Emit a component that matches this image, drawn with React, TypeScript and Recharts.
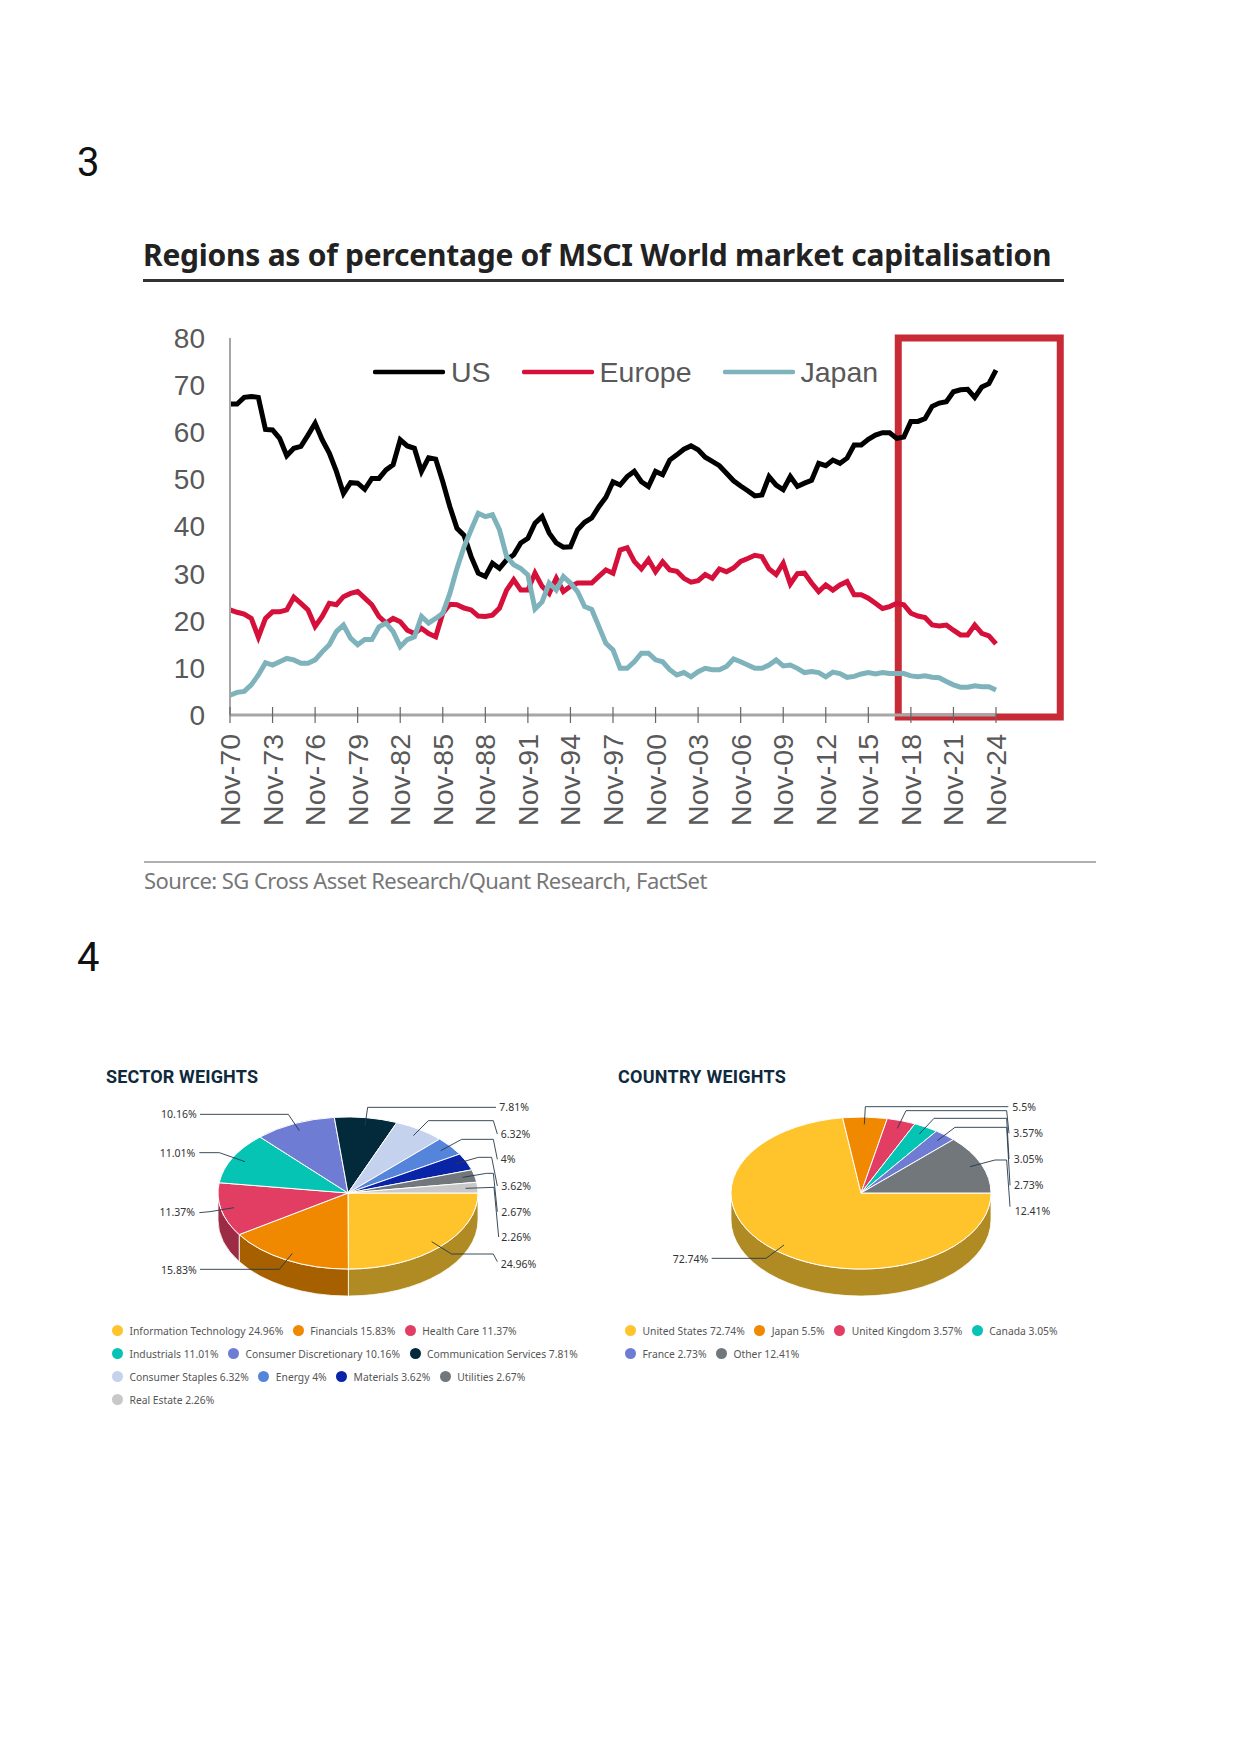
import {
  LineChart,
  Line,
  XAxis,
  YAxis,
  Legend,
  ReferenceArea,
  PieChart,
  Pie,
} from "recharts";

const FONT_AXIS = "'Liberation Sans', Arial, sans-serif";
const FONT_BODY = "'Noto Sans', sans-serif";

// half-yearly readings, starting Nov-70
const usShare = [
  66, 66, 67.4, 67.6, 67.4, 60.6, 60.5, 58.7, 55, 56.6,
  57, 59.4, 61.9, 58.4, 55.6, 51.7, 47, 49.3, 49.2, 47.9,
  50.2, 50.2, 52, 53.1, 58.4, 57.1, 56.6, 51.7, 54.6, 54.3,
  49.5, 44.2, 39.6, 38.1, 33.6, 30.1, 29.4, 32.2, 31.1, 32.9,
  34, 36.5, 37.5, 40.7, 42.1, 38.6, 36.5, 35.6, 35.7, 39.3,
  40.9, 41.8, 44.2, 46.2, 49.5, 48.8, 50.6, 51.7, 49.5, 48.5,
  51.7, 51, 54.1, 55.2, 56.4, 57.1, 56.3, 54.7, 53.8, 52.9,
  51.3, 49.7, 48.6, 47.6, 46.5, 46.7, 50.6, 48.8, 47.8, 50.6,
  48.5, 49.2, 49.8, 53.4, 52.9, 54.1, 53.4, 54.5, 57.3, 57.3,
  58.5, 59.4, 59.9, 59.9, 58.7, 59, 62.3, 62.3, 62.9, 65.5,
  66.2, 66.5, 68.6, 69, 69.1, 67.4, 69.6, 70.3, 73.2,
];
const europeShare = [
  22.3, 21.8, 21.4, 20.5, 16.5, 20.5, 21.9, 21.9, 22.3, 25,
  23.7, 22.3, 18.8, 20.9, 23.7, 23.4, 25.1, 25.8, 26.2, 24.8,
  23.4, 20.9, 19.5, 20.5, 19.8, 18, 17.3, 18.4, 17.3, 16.6,
  21.6, 23.5, 23.4, 22.7, 22.3, 21, 20.9, 21.2, 22.7, 26.5,
  28.7, 26.5, 26.5, 30.1, 27.3, 25.8, 29, 26.2, 27.3, 28,
  28, 28, 29.4, 30.8, 30.1, 35, 35.5, 32.6, 31, 33,
  30.4, 32.5, 30.8, 30.5, 29, 28.2, 28.5, 29.8, 29, 31,
  30.4, 31.2, 32.6, 33.2, 33.9, 33.6, 31, 29.8, 32.2, 27.8,
  30, 30.1, 28, 26.2, 27.6, 26.5, 27.6, 28.3, 25.5, 25.5,
  24.8, 23.7, 22.6, 23, 23.7, 23.4, 21.6, 21, 20.7, 19.1,
  18.9, 19.1, 18, 17, 17, 19.1, 17.3, 16.8, 15.1,
];
const japanShare = [
  4.2, 4.8, 5, 6.4, 8.5, 11.1, 10.6, 11.3, 12, 11.7,
  11, 11, 11.7, 13.4, 14.9, 17.7, 19.1, 16.3, 14.9, 16,
  16, 18.7, 19.5, 17.7, 14.5, 16, 16.6, 20.9, 19.5, 20.5,
  21.6, 25.8, 31.1, 35.7, 39.3, 42.8, 42.1, 42.5, 39.3, 33.6,
  31.9, 31.1, 29.7, 22.5, 24, 28, 26.5, 29.4, 28, 26.2,
  23, 22.4, 18.8, 15.2, 13.8, 9.9, 9.9, 11.3, 13.1, 13.1,
  11.7, 11.3, 9.6, 8.5, 9, 8.1, 9.2, 9.9, 9.6, 9.6,
  10.3, 11.9, 11.3, 10.6, 9.9, 9.9, 10.6, 11.7, 10.4, 10.6,
  9.9, 9, 9.2, 9, 8.1, 9.1, 8.8, 8, 8.2, 8.7,
  9, 8.7, 9, 8.8, 8.8, 8.8, 8.3, 8.1, 8.3, 8,
  7.9, 7.1, 6.4, 5.9, 5.9, 6.2, 6, 6, 5.3,
];
const xTickLabels = [
  "Nov-70", "Nov-73", "Nov-76", "Nov-79", "Nov-82", "Nov-85", "Nov-88",
  "Nov-91", "Nov-94", "Nov-97", "Nov-00", "Nov-03", "Nov-06", "Nov-09",
  "Nov-12", "Nov-15", "Nov-18", "Nov-21", "Nov-24",
];
const yTicks = [0, 10, 20, 30, 40, 50, 60, 70, 80];

const sectorNames = [
  "Information Technology", "Financials", "Health Care", "Industrials",
  "Consumer Discretionary", "Communication Services", "Consumer Staples",
  "Energy", "Materials", "Utilities", "Real Estate",
];
const sectorValues = [24.96, 15.83, 11.37, 11.01, 10.16, 7.81, 6.32, 4, 3.62, 2.67, 2.26];
const sectorColors = [
  "#FFC42C", "#F08800", "#E23E63", "#05C4B4", "#6E7CD4", "#032A3A",
  "#C5D2EE", "#5585DA", "#0A24A8", "#72777B", "#C8C8C8",
];

const countryNames = ["United States", "Japan", "United Kingdom", "Canada", "France", "Other"];
const countryValues = [72.74, 5.5, 3.57, 3.05, 2.73, 12.41];
const countryColors = ["#FFC42C", "#F08800", "#E23E63", "#05C4B4", "#6E7CD4", "#72777B"];

const wallColors: Record<string, string> = {
  "#FFC42C": "#B08A22",
  "#F08800": "#A66000",
  "#E23E63": "#9C2C45",
  "#05C4B4": "#03857A",
  "#6E7CD4": "#4A5490",
  "#72777B": "#4E5154",
};

// leader lines measured on a 3x crop: [x, y, x, y ...], then text x, y, anchor
const sectorLeaders: [number[], number, number, string][] = [
  [[1025, 545, 1085, 582, 1210, 582, 1222, 605], 1232, 611, "start"],
  [[607, 580, 568, 628, 330, 628], 320, 630, "end"],
  [[432, 443, 360, 455, 328, 458], 315, 457, "end"],
  [[465, 305, 388, 278, 328, 278], 316, 280, "end"],
  [[628, 212, 595, 163, 330, 163], 320, 163, "end"],
  [[825, 197, 833, 142, 1218, 142], 1228, 142, "start"],
  [[970, 227, 1015, 182, 1210, 182, 1222, 222], 1232, 222, "start"],
  [[1052, 272, 1115, 238, 1210, 238, 1222, 298], 1232, 298, "start"],
  [[1095, 312, 1165, 292, 1205, 292, 1222, 378], 1234, 378, "start"],
  [[1118, 352, 1190, 340, 1210, 340, 1222, 455], 1234, 455, "start"],
  [[1127, 385, 1212, 382, 1226, 531], 1234, 531, "start"],
];
const countryLeaders: [number[], number, number, string][] = [
  [[522, 555, 468, 595, 305, 595], 295, 597, "end"],
  [[763, 193, 766, 140, 1195, 140], 1207, 142, "start"],
  [[862, 205, 888, 152, 1190, 152, 1197, 220], 1210, 220, "start"],
  [[928, 222, 972, 175, 1190, 175, 1197, 297], 1211, 297, "start"],
  [[982, 242, 1035, 202, 1190, 202, 1200, 376], 1212, 376, "start"],
  [[1080, 320, 1155, 300, 1190, 300, 1200, 440], 1214, 453, "start"],
];

const START_YEAR = 1970.87;
const lineData = usShare.map((us, i) => ({
  year: START_YEAR + i / 2,
  us,
  europe: europeShare[i],
  japan: japanShare[i],
}));
const xTicks = xTickLabels.map((_, i) => START_YEAR + i * 3);

const sectorData = sectorNames.map((name, i) => ({ name, value: sectorValues[i], fill: sectorColors[i] }));
const countryData = countryNames.map((name, i) => ({ name, value: countryValues[i], fill: countryColors[i] }));

const TILT = 0.585;
const DEPTH = 27;

// Recharts only draws round pies, so the slices are squashed into an ellipse here
const TiltedSlice = (props: any) => {
  const { cx, cy, outerRadius, startAngle, endAngle, fill } = props;
  const rx = outerRadius;
  const ry = outerRadius * TILT;
  const px = (a: number) => cx + rx * Math.cos((a * Math.PI) / 180);
  const py = (a: number) => cy - ry * Math.sin((a * Math.PI) / 180);
  const large = Math.abs(endAngle - startAngle) > 180 ? 1 : 0;
  const top = `M${cx},${cy} L${px(startAngle)},${py(startAngle)} A${rx},${ry} 0 ${large} 1 ${px(endAngle)},${py(endAngle)} Z`;

  const wallFrom = Math.min(startAngle, 0);
  const wallTo = Math.max(endAngle, -180);
  let wall = null;
  if (wallFrom > wallTo) {
    wall = (
      <path
        d={`M${px(wallFrom)},${py(wallFrom)} A${rx},${ry} 0 0 1 ${px(wallTo)},${py(wallTo)} L${px(wallTo)},${py(wallTo) + DEPTH} A${rx},${ry} 0 0 0 ${px(wallFrom)},${py(wallFrom) + DEPTH} Z`}
        fill={wallColors[fill] ?? fill}
        stroke="#fff"
        strokeWidth={0.8}
      />
    );
  }
  return (
    <g>
      {wall}
      <path d={top} fill={fill} stroke="#fff" strokeWidth={1} />
    </g>
  );
};

const leaderLabel = (leaders: [number[], number, number, string][]) => (props: any) => {
  const [pts, tx, ty, anchor] = leaders[props.index];
  const points = pts.map((p) => p / 3).join(" ");
  return (
    <g key={props.index}>
      <polyline points={points} fill="none" stroke="#25394a" strokeWidth={0.9} />
      <text
        x={tx / 3}
        y={ty / 3}
        textAnchor={anchor as any}
        dominantBaseline="central"
        fontFamily={FONT_BODY}
        fontSize={10.5}
        fill="#333"
      >
        {props.value}%
      </text>
    </g>
  );
};

// legends go through content so they take no room from the plot
const PieLegend = ({ payload }: any) => (
  <div style={{ display: "flex", flexWrap: "wrap", columnGap: 9.5 }}>
    {payload.map((entry: any) => (
      <div key={entry.value} style={{ display: "flex", alignItems: "center", height: 23 }}>
        <svg width={11} height={11} style={{ marginRight: 6.5 }}>
          <circle cx={5.5} cy={5.5} r={5.5} fill={entry.color} />
        </svg>
        <span style={{ color: "#555", fontFamily: FONT_BODY, fontSize: 10.3, whiteSpace: "nowrap" }}>
          {entry.value} {entry.payload.value}%
        </span>
      </div>
    ))}
  </div>
);

const TopLegend = ({ payload }: any) => (
  <div style={{ display: "flex", alignItems: "center", height: 36 }}>
    {payload.map((entry: any) => (
      <div key={entry.value} style={{ display: "flex", alignItems: "center", marginRight: 31 }}>
        <svg width={72} height={6} style={{ marginRight: 6 }}>
          <line x1={2} x2={70} y1={3} y2={3} stroke={entry.color} strokeWidth={4.5} strokeLinecap="round" />
        </svg>
        <span style={{ color: "#595959", fontFamily: FONT_AXIS, fontSize: 28.5 }}>{entry.value}</span>
      </div>
    ))}
  </div>
);

const XTick = ({ x, y, index }: any) => (
  <g>
    <line x1={x} x2={x} y1={y - 16} y2={y} stroke="#666" strokeWidth={1.2} />
    <text
      transform={`translate(${x + 10},${y + 11}) rotate(-90)`}
      textAnchor="end"
      fontFamily={FONT_AXIS}
      fontSize={28.5}
      fill="#595959"
    >
      {xTickLabels[index]}
    </text>
  </g>
);

const Txt = ({ left, top, style, children }: any) => (
  <div style={{ position: "absolute", left, top, whiteSpace: "nowrap", ...style }}>{children}</div>
);

const WeightsPie = ({ left, width, data, cx, leaders, legendLeft, legendWidth }: any) => (
  <div style={{ position: "absolute", left, top: 1060 }}>
    <PieChart width={width} height={360} margin={{ top: 0, right: 0, bottom: 0, left: 0 }}>
      <Pie
        data={data}
        dataKey="value"
        nameKey="name"
        cx={cx}
        cy={133}
        outerRadius={130}
        startAngle={0}
        endAngle={-360}
        shape={TiltedSlice}
        label={leaderLabel(leaders)}
        labelLine={false}
        isAnimationActive={false}
      />
      <Legend
        layout="horizontal"
        align="center"
        verticalAlign="middle"
        itemSorter={null}
        content={<PieLegend />}
        wrapperStyle={{ left: legendLeft, top: 259, width: legendWidth }}
      />
    </PieChart>
  </div>
);

export default function App() {
  return (
    <div style={{ position: "absolute", left: 0, top: 0, width: 1241, height: 1754, background: "#fff" }}>
      <Txt left={77} top={140} style={{ fontFamily: "Roboto", fontSize: 40, lineHeight: "46px", color: "#111" }}>3</Txt>
      <Txt left={77} top={935} style={{ fontFamily: "Roboto", fontSize: 40, lineHeight: "46px", color: "#111" }}>4</Txt>

      <Txt left={143} top={234} style={{ fontFamily: FONT_BODY, fontWeight: 700, fontSize: 30, lineHeight: "42px", color: "#222", letterSpacing: -0.25 }}>
        Regions as of percentage of MSCI World market capitalisation
      </Txt>
      <div style={{ position: "absolute", left: 143, top: 279, width: 921, height: 3, background: "#333" }} />

      <div style={{ position: "absolute", left: 0, top: 0 }}>
        <LineChart
          width={1241}
          height={860}
          data={lineData}
          margin={{ top: 338, right: 245, left: 150, bottom: 25 }}
        >
          <XAxis
            dataKey="year"
            type="number"
            domain={[START_YEAR, START_YEAR + 54]}
            ticks={xTicks}
            interval={0}
            height={120}
            tick={<XTick />}
            tickLine={false}
            axisLine={{ stroke: "#a6a6a6", strokeWidth: 3 }}
          />
          <YAxis
            width={80}
            domain={[0, 80]}
            ticks={yTicks}
            interval={0}
            tickLine={false}
            tickSize={25}
            tickMargin={0}
            tick={{ fill: "#595959", fontSize: 28, fontFamily: FONT_AXIS }}
            axisLine={{ stroke: "#a6a6a6", strokeWidth: 2 }}
          />
          <Legend
            layout="horizontal"
            align="center"
            verticalAlign="middle"
            itemSorter={null}
            content={<TopLegend />}
            wrapperStyle={{ left: 373, top: 354, width: 720 }}
          />
          <Line type="linear" dataKey="us" name="US" stroke="#000" strokeWidth={5} dot={false} isAnimationActive={false} />
          <Line type="linear" dataKey="europe" name="Europe" stroke="#D5103A" strokeWidth={5} dot={false} isAnimationActive={false} />
          <Line type="linear" dataKey="japan" name="Japan" stroke="#7FB3BC" strokeWidth={5} dot={false} isAnimationActive={false} />
          <ReferenceArea
            x1={2017.98}
            x2={2029.4}
            y1={-0.4}
            y2={80}
            ifOverflow="visible"
            fill="none"
            stroke="#C82A36"
            strokeWidth={7}
          />
        </LineChart>
      </div>

      <div style={{ position: "absolute", left: 144, top: 861, width: 952, height: 2, background: "#b0b0b0" }} />
      <Txt left={144} top={864} style={{ fontFamily: FONT_BODY, fontSize: 22, lineHeight: "32px", color: "#777", letterSpacing: -0.55 }}>
        Source: SG Cross Asset Research/Quant Research, FactSet
      </Txt>

      <Txt left={106} top={1066} style={{ fontFamily: "Roboto", fontWeight: 700, fontSize: 18, lineHeight: "22px", color: "#0F2A3D", letterSpacing: 0.15 }}>SECTOR WEIGHTS</Txt>
      <Txt left={618} top={1066} style={{ fontFamily: "Roboto", fontWeight: 700, fontSize: 18, lineHeight: "22px", color: "#0F2A3D", letterSpacing: 0.25 }}>COUNTRY WEIGHTS</Txt>

      <WeightsPie left={90} width={520} data={sectorData} cx={258} leaders={sectorLeaders} legendLeft={22} legendWidth={495} />
      <WeightsPie left={610} width={490} data={countryData} cx={251} leaders={countryLeaders} legendLeft={15} legendWidth={470} />
    </div>
  );
}
